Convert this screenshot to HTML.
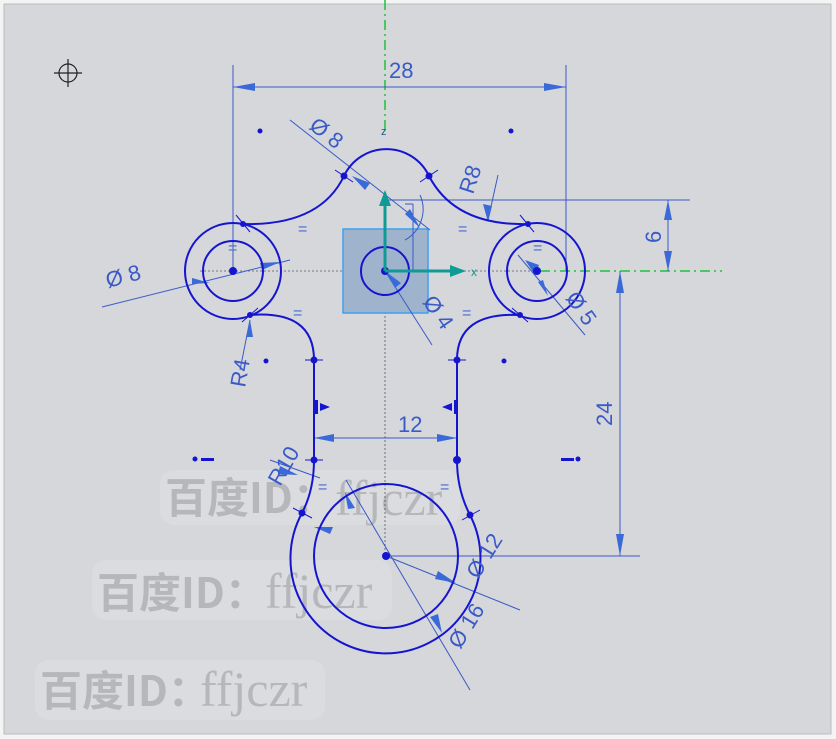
<!DOCTYPE html>
<html><head><meta charset="utf-8"><style>
html,body{margin:0;padding:0;background:#fff}
svg{display:block}
.wm1{font-family:"Noto Sans CJK SC","WenQuanYi Zen Hei",sans-serif;font-weight:bold;font-size:42px;fill:#b5b7ba}
.wm2{font-family:"Liberation Serif",serif;font-size:50px;fill:#b5b7ba}
.dim{font-family:"Liberation Sans",sans-serif;font-size:22px;fill:#3a5ac8}
</style></head><body>
<svg width="836" height="739" viewBox="0 0 836 739" xmlns="http://www.w3.org/2000/svg">
<rect x="0" y="0" width="836" height="739" fill="#f4f4f4"/>
<rect x="4" y="4" width="827" height="730" fill="#d5d7da" stroke="#bbb"/>
<!-- watermarks -->
<g>
<rect x="160" y="470" width="300" height="55" rx="14" fill="#dadcdf"/>
<text class="wm1" x="165" y="513">百度ID：</text><text class="wm2" x="335" y="515">ffjczr</text>
<rect x="92" y="560" width="300" height="60" rx="14" fill="#dadcdf"/>
<text class="wm1" x="97" y="608">百度ID：</text><text class="wm2" x="265" y="608">ffjczr</text>
<rect x="35" y="660" width="290" height="60" rx="14" fill="#dadcdf"/>
<text class="wm1" x="40" y="706">百度ID：</text><text class="wm2" x="200" y="706">ffjczr</text>
</g>
<!-- crosshair -->
<g stroke="#222" fill="none" stroke-width="1.2"><circle cx="68" cy="73" r="9"/><line x1="54" y1="73" x2="82" y2="73"/><line x1="68" y1="59" x2="68" y2="87"/></g>
<!-- green axes -->
<line x1="385" y1="0" x2="385" y2="130" stroke="#1fc43a" stroke-width="1.5" stroke-dasharray="10,4,2,4"/>
<line x1="540" y1="271" x2="722" y2="271" stroke="#1fc43a" stroke-width="1.5" stroke-dasharray="10,4,2,4"/>
<!-- center lines -->
<g stroke="#556" stroke-width="0.8" stroke-dasharray="2,2" fill="none">
<line x1="385" y1="200" x2="385" y2="556"/><line x1="200" y1="271" x2="540" y2="271"/></g>
<!-- blue square -->
<rect x="343" y="229" width="85" height="84" fill="#9fb4cc" stroke="#3da0f0" stroke-width="1.5"/>
<!-- dimension lines -->
<g stroke="#3a5ac8" stroke-width="1" fill="none">
<line x1="233" y1="65" x2="233" y2="271"/><line x1="566" y1="65" x2="566" y2="271"/>
<line x1="233" y1="87" x2="566" y2="87"/>
<line x1="385" y1="200" x2="690" y2="200"/><line x1="668" y1="200" x2="668" y2="271"/>
<line x1="620" y1="271" x2="620" y2="556"/><line x1="386" y1="556" x2="640" y2="556"/>
<line x1="314" y1="438" x2="457" y2="438"/>
<line x1="290" y1="120" x2="430" y2="230"/>
<line x1="102" y1="307" x2="290" y2="260"/>
<line x1="518" y1="255" x2="585" y2="335"/>
<line x1="385" y1="271" x2="432" y2="345"/>
<line x1="386" y1="556" x2="520" y2="610"/>
<line x1="346" y1="480" x2="470" y2="690"/>
<line x1="240" y1="370" x2="250" y2="320"/>
<line x1="488" y1="220" x2="498" y2="175"/>
<line x1="270" y1="460" x2="320" y2="478"/>
<line x1="405" y1="204" x2="413" y2="204"/><line x1="413" y1="204" x2="413" y2="271"/>
<path d="M405 240 A35 35 0 0 0 420 195"/>
</g>
<g fill="#3a6ad8">
<polygon points="233,87 255,83 255,91"/><polygon points="566,87 544,83 544,91"/>
<polygon points="668,200 664,220 672,220"/><polygon points="668,271 664,251 672,251"/>
<polygon points="620,271 616,293 624,293"/><polygon points="620,556 616,534 624,534"/>
<polygon points="314,438 334,434 334,442"/><polygon points="457,438 437,434 437,442"/>
<polygon points="352,176 370,183 365,190"/><polygon points="420,228 405,214 410,209"/>
<polygon points="210,283 192,284 192,278"/><polygon points="280,262 260,263 262,270"/>
<polygon points="525,260 535,275 539,265"/><polygon points="548,296 538,282 543,280"/>
<polygon points="385,271 395,288 401,283"/>
<polygon points="314,527 330,534 333,527"/><polygon points="456,583 438,571 435,579"/>
<polygon points="345,492 355,508 348,509"/><polygon points="442,633 430,617 438,614"/>
<polygon points="250,320 246,337 253,337"/><polygon points="488,222 483,204 492,206"/>
<polygon points="298,475 280,466 278,474"/>
</g>
<!-- geometry -->
<g stroke="#1515d0" stroke-width="2" fill="none">
<circle cx="233" cy="271" r="48"/><circle cx="233" cy="271" r="30"/>
<circle cx="537" cy="271" r="48"/><circle cx="537" cy="271" r="30"/>
<circle cx="385" cy="271" r="24"/>
<circle cx="386" cy="556" r="72"/>
<path d="M243 224 Q320 226 344 176 A47 47 0 0 1 429 176 Q455 226 528 224"/>
<path d="M250 315 Q314 310 314 360 L314 460 Q314 490 302 513 A95 95 0 1 0 470 515 Q457 490 457 460 L457 360 Q457 312 520 315"/>
</g>
<!-- points -->
<g fill="#1515d0">
<circle cx="233" cy="271" r="4"/><circle cx="537" cy="271" r="4"/><circle cx="385" cy="271" r="4"/><circle cx="386" cy="556" r="4"/>
<circle cx="344" cy="176" r="3.5"/><circle cx="429" cy="176" r="3.5"/><circle cx="385" cy="200" r="3"/>
<circle cx="243" cy="224" r="3"/><circle cx="528" cy="224" r="3"/><circle cx="250" cy="315" r="3"/><circle cx="520" cy="315" r="3"/>
<circle cx="314" cy="360" r="3.5"/><circle cx="457" cy="360" r="3.5"/><circle cx="314" cy="460" r="3.5"/><circle cx="457" cy="460" r="4"/>
<circle cx="302" cy="513" r="3.5"/><circle cx="470" cy="515" r="3.5"/>
<circle cx="260" cy="131" r="2.5"/><circle cx="511" cy="131" r="2.5"/><circle cx="266" cy="361" r="2.5"/><circle cx="504" cy="361" r="2.5"/>
<circle cx="195" cy="459" r="2.5"/><rect x="201" y="458" width="13" height="3"/><rect x="561" y="458" width="13" height="3"/><circle cx="578" cy="459" r="2.5"/>
<rect x="314" y="400" width="4" height="14"/><polygon points="320,403 330,407 320,411"/>
<rect x="454" y="400" width="4" height="14"/><polygon points="452,403 442,407 452,411"/>
</g>
<!-- tick marks -->
<g stroke="#1515d0" stroke-width="1" fill="none">
<path d="M335 170 L353 182 M420 182 L438 170 M236 215 L250 232 M520 215 L534 232 M242 322 L258 308 M512 308 L528 322 M305 360 L323 360 M448 360 L466 360 M305 460 L323 460 M293 508 L312 518 M462 520 L480 510"/>
</g>
<!-- axes triad -->
<g stroke="#0f9a96" stroke-width="3"><line x1="385" y1="271" x2="385" y2="205"/><line x1="385" y1="271" x2="450" y2="271"/></g>
<polygon points="385,190 379,206 391,206" fill="#0f9a96"/><polygon points="466,271 450,265 450,277" fill="#0f9a96"/>
<text x="381" y="135" font-family="Liberation Sans,sans-serif" font-size="11" fill="#0f5a96">z</text>
<text x="471" y="276" font-family="Liberation Sans,sans-serif" font-size="12" fill="#0f9a96">x</text>
<!-- equals marks -->
<g font-family="Liberation Sans,sans-serif" font-size="16" fill="#4a6ad0">
<text x="298" y="234">=</text><text x="458" y="234">=</text><text x="293" y="318">=</text><text x="462" y="318">=</text>
<text x="228" y="253">=</text><text x="533" y="253">=</text><text x="318" y="492">=</text><text x="440" y="492">=</text></g>
<!-- dim texts -->
<text class="dim" x="389" y="78">28</text>
<text class="dim" x="398" y="432">12</text>
<text class="dim" transform="translate(661,243) rotate(-90)">6</text>
<text class="dim" transform="translate(612,426) rotate(-90)">24</text>
<text class="dim" transform="translate(308,128) rotate(38)">Ø 8</text>
<text class="dim" transform="translate(108,288) rotate(-15)">Ø 8</text>
<text class="dim" transform="translate(565,298) rotate(55)">Ø 5</text>
<text class="dim" transform="translate(422,302) rotate(55)">Ø 4</text>
<text class="dim" transform="translate(478,580) rotate(-58)">Ø 12</text>
<text class="dim" transform="translate(460,650) rotate(-58)">Ø 16</text>
<text class="dim" transform="translate(473,195) rotate(-72)" font-size="18">R8</text>
<text class="dim" transform="translate(245,388) rotate(-80)" font-size="18">R4</text>
<text class="dim" transform="translate(280,487) rotate(-60)" font-size="18">R10</text>
</svg>
</body></html>
